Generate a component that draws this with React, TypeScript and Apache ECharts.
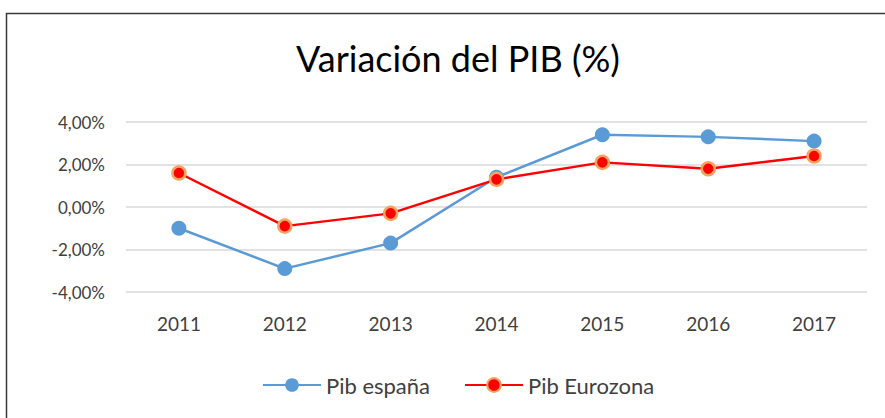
import React, { useEffect, useRef } from "react";
import * as echarts from "echarts";

const years = ["2011", "2012", "2013", "2014", "2015", "2016", "2017"];
const pibEspana = [-1.0, -2.9, -1.7, 1.4, 3.4, 3.3, 3.1];
const pibEurozona = [1.6, -0.9, -0.3, 1.3, 2.1, 1.8, 2.4];
const titleText = "Variación del PIB (%)";
const seriesNames = ["Pib españa", "Pib Eurozona"];

const FONT = "Lato";

export default function App() {
  const ref = useRef<HTMLDivElement>(null);
  useEffect(() => {
    if (!ref.current) return;
    const chart = echarts.init(ref.current, null, { renderer: "svg" });
    chart.setOption({
      animation: false,
      backgroundColor: "#ffffff",
      title: {
        text: titleText,
        left: 453,
        textAlign: "center",
        top: 35,
        textStyle: { fontFamily: FONT, fontSize: 36, fontWeight: "normal", color: "#000000" },
      },
      graphic: [
        {
          type: "rect",
          shape: { x: 6.5, y: 13.5, width: 900, height: 430 },
          style: { fill: "none", stroke: "#3a3a3a", lineWidth: 1.5 },
          silent: true,
        },
      ],
      legend: {
        top: 369,
        left: 257,
        itemWidth: 58,
        itemHeight: 17,
        itemGap: 34,
        textStyle: { fontFamily: FONT, fontSize: 22, color: "#404040" },
        data: seriesNames,
      },
      grid: { left: 126, right: 18, top: 122, bottom: 126 },
      xAxis: {
        type: "category",
        data: years,
        boundaryGap: true,
        axisLine: { show: false },
        axisTick: { show: false },
        axisLabel: { fontFamily: FONT, fontSize: 19, color: "#404040", margin: 22 },
      },
      yAxis: {
        type: "value",
        min: -4,
        max: 4,
        interval: 2,
        axisLine: { show: false },
        axisTick: { show: false },
        splitLine: { lineStyle: { color: "#d9d9d9", width: 1.5 } },
        axisLabel: {
          fontFamily: FONT,
          fontSize: 17,
          color: "#404040",
          margin: 21,
          formatter: (v: number) => v.toFixed(2).replace(".", ",") + "%",
        },
      },
      series: [
        {
          name: seriesNames[0],
          type: "line",
          data: pibEspana,
          symbol: "circle",
          symbolSize: 15,
          lineStyle: { color: "#5B9BD5", width: 2.5 },
          itemStyle: { color: "#5B9BD5" },
        },
        {
          name: seriesNames[1],
          type: "line",
          data: pibEurozona,
          symbol: "circle",
          symbolSize: 13,
          lineStyle: { color: "#FF0000", width: 2.5 },
          itemStyle: { color: "#FF0000", borderColor: "#F4A460", borderWidth: 2.5 },
        },
      ],
    });
    return () => chart.dispose();
  }, []);
  return (
    <div
      ref={ref}
      style={{ position: "fixed", left: 0, top: 0, width: 885, height: 418 }}
    />
  );
}
